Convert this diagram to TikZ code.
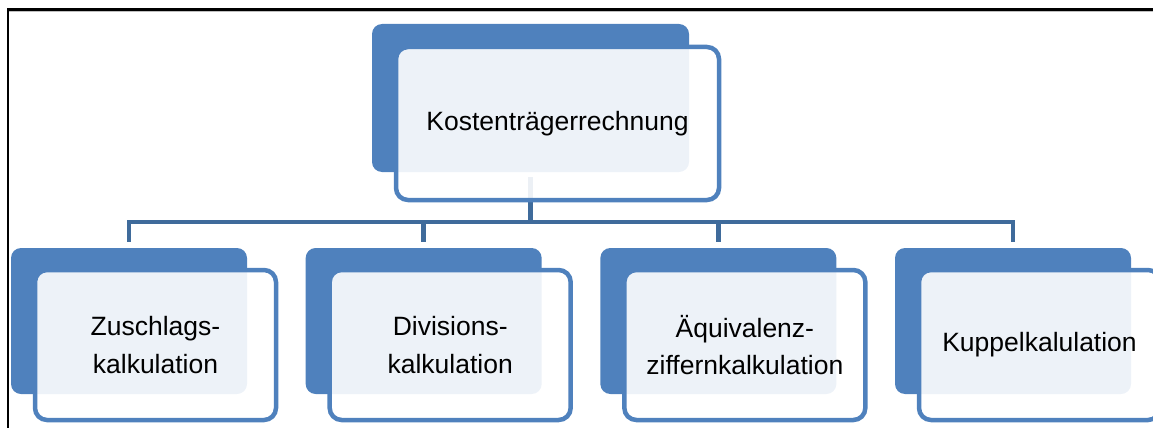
\documentclass[tikz,border=0pt]{standalone}
\usepackage{fontspec}
\setmainfont{Liberation Sans}
\definecolor{accent}{HTML}{4F81BD}
\definecolor{linkblue}{HTML}{3F6B9B}
\tikzset{
  backbox/.style={rectangle, rounded corners=10pt, fill=accent, inner sep=0pt, outer sep=0pt, anchor=north west},
  frontbox/.style={rectangle, rounded corners=12pt, draw=accent, line width=4.5pt, fill=white, fill opacity=0.9, text opacity=1, text=black, inner sep=0pt, outer sep=0pt, anchor=north west, align=center, font=\fontsize{26.5}{37.3}\selectfont},
  link/.style={draw=linkblue, line width=4.5pt}
}
\begin{document}
\begin{tikzpicture}[x=1pt,y=-1pt]
    \useasboundingbox (0,0) rectangle (1153,428);
    % frame
    \draw[gray!50, line width=1pt] (8,11.2) -- (1153,11.2);
    \draw[black, line width=2.2pt] (7.6,428) -- (7.6,9.6) -- (1153,9.6);
    % back boxes
    \node[backbox, minimum width=317pt, minimum height=148pt] (top-back) at (372,24) {};
    \foreach \i in {1,...,4}
        \node[backbox, minimum width=236pt, minimum height=146pt] (c\i-back) at ({11+(\i-1)*294.67},248) {};
    % connectors
    \coordinate (bus) at (0,222);
    \draw[link] ([yshift=-5pt]top-back.south) -- (top-back.south |- bus);
    \foreach \i in {1,...,4}
        \draw[link] (top-back.south |- bus) -| ([yshift=6pt]c\i-back.north);
    % front boxes
    \node[frontbox, minimum width=323pt, minimum height=153pt] (top) at ([xshift=24pt,yshift=-23pt]top-back.north west) {Kostenträgerrechnung};
    \node[frontbox, minimum width=241pt, minimum height=150pt] (c1) at ([xshift=24pt,yshift=-22pt]c1-back.north west) {Zuschlags-\\kalkulation};
    \node[frontbox, minimum width=241pt, minimum height=150pt] (c2) at ([xshift=24pt,yshift=-22pt]c2-back.north west) {Divisions-\\kalkulation};
    \node[frontbox, minimum width=241pt, minimum height=150pt] (c3) at ([xshift=24pt,yshift=-22pt]c3-back.north west) {Äquivalenz-\\ziffernkalkulation};
    \node[frontbox, minimum width=241pt, minimum height=150pt] (c4) at ([xshift=24pt,yshift=-22pt]c4-back.north west) {Kuppelkalulation};
\end{tikzpicture}
\end{document}
